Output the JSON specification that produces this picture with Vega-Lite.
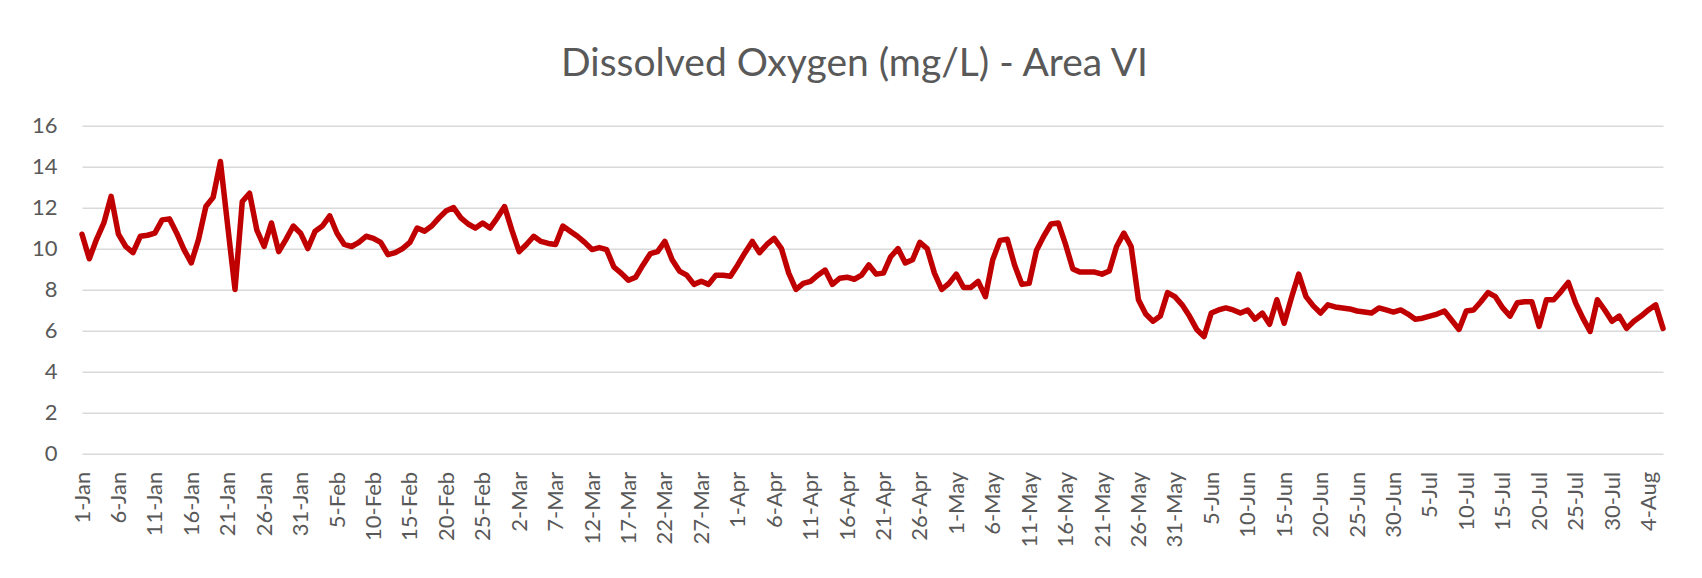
{
  "$schema": "https://vega.github.io/schema/vega-lite/v6.json",
  "width": 1581,
  "height": 327.6,
  "autosize": {"type": "none"},
  "padding": {"left": 82, "top": 125.7, "right": 39, "bottom": 124.7},
  "background": "white",
  "title": {"text": "Dissolved Oxygen (mg/L) - Area VI", "font": "Lato", "fontSize": 39, "fontWeight": "normal", "color": "#595959", "anchor": "middle", "offset": 31, "dx": -18},
  "data": {"values": [
    {"d":"1-Jan","v":10.7},{"d":"2-Jan","v":9.5},{"d":"3-Jan","v":10.45},{"d":"4-Jan","v":11.25},{"d":"5-Jan","v":12.55},{"d":"6-Jan","v":10.7},{"d":"7-Jan","v":10.1},{"d":"8-Jan","v":9.8},{"d":"9-Jan","v":10.6},{"d":"10-Jan","v":10.65},
    {"d":"11-Jan","v":10.75},{"d":"12-Jan","v":11.4},{"d":"13-Jan","v":11.45},{"d":"14-Jan","v":10.75},{"d":"15-Jan","v":9.95},{"d":"16-Jan","v":9.3},{"d":"17-Jan","v":10.45},{"d":"18-Jan","v":12.05},{"d":"19-Jan","v":12.5},{"d":"20-Jan","v":14.25},
    {"d":"21-Jan","v":11.1},{"d":"22-Jan","v":8.0},{"d":"23-Jan","v":12.3},{"d":"24-Jan","v":12.7},{"d":"25-Jan","v":10.9},{"d":"26-Jan","v":10.1},{"d":"27-Jan","v":11.25},{"d":"28-Jan","v":9.85},{"d":"29-Jan","v":10.45},{"d":"30-Jan","v":11.1},
    {"d":"31-Jan","v":10.75},
    {"d":"1-Feb","v":10.0},{"d":"2-Feb","v":10.85},{"d":"3-Feb","v":11.1},{"d":"4-Feb","v":11.6},{"d":"5-Feb","v":10.75},{"d":"6-Feb","v":10.2},{"d":"7-Feb","v":10.1},{"d":"8-Feb","v":10.3},{"d":"9-Feb","v":10.6},{"d":"10-Feb","v":10.5},
    {"d":"11-Feb","v":10.3},{"d":"12-Feb","v":9.7},{"d":"13-Feb","v":9.8},{"d":"14-Feb","v":10.0},{"d":"15-Feb","v":10.3},{"d":"16-Feb","v":11.0},{"d":"17-Feb","v":10.85},{"d":"18-Feb","v":11.1},{"d":"19-Feb","v":11.5},{"d":"20-Feb","v":11.85},
    {"d":"21-Feb","v":12.0},{"d":"22-Feb","v":11.5},{"d":"23-Feb","v":11.2},{"d":"24-Feb","v":11.0},{"d":"25-Feb","v":11.25},{"d":"26-Feb","v":11.0},{"d":"27-Feb","v":11.5},{"d":"28-Feb","v":12.05},
    {"d":"1-Mar","v":10.9},{"d":"2-Mar","v":9.85},{"d":"3-Mar","v":10.2},{"d":"4-Mar","v":10.6},{"d":"5-Mar","v":10.35},{"d":"6-Mar","v":10.25},{"d":"7-Mar","v":10.2},{"d":"8-Mar","v":11.1},{"d":"9-Mar","v":10.85},{"d":"10-Mar","v":10.6},
    {"d":"11-Mar","v":10.3},{"d":"12-Mar","v":9.95},{"d":"13-Mar","v":10.05},{"d":"14-Mar","v":9.95},{"d":"15-Mar","v":9.1},{"d":"16-Mar","v":8.8},{"d":"17-Mar","v":8.45},{"d":"18-Mar","v":8.6},{"d":"19-Mar","v":9.2},{"d":"20-Mar","v":9.75},
    {"d":"21-Mar","v":9.85},{"d":"22-Mar","v":10.35},{"d":"23-Mar","v":9.45},{"d":"24-Mar","v":8.9},{"d":"25-Mar","v":8.7},{"d":"26-Mar","v":8.25},{"d":"27-Mar","v":8.4},{"d":"28-Mar","v":8.25},{"d":"29-Mar","v":8.7},{"d":"30-Mar","v":8.7},
    {"d":"31-Mar","v":8.65},
    {"d":"1-Apr","v":9.2},{"d":"2-Apr","v":9.8},{"d":"3-Apr","v":10.35},{"d":"4-Apr","v":9.8},{"d":"5-Apr","v":10.2},{"d":"6-Apr","v":10.5},{"d":"7-Apr","v":10.0},{"d":"8-Apr","v":8.8},{"d":"9-Apr","v":8.0},{"d":"10-Apr","v":8.3},
    {"d":"11-Apr","v":8.4},{"d":"12-Apr","v":8.7},{"d":"13-Apr","v":8.95},{"d":"14-Apr","v":8.25},{"d":"15-Apr","v":8.55},{"d":"16-Apr","v":8.6},{"d":"17-Apr","v":8.5},{"d":"18-Apr","v":8.7},{"d":"19-Apr","v":9.2},{"d":"20-Apr","v":8.75},
    {"d":"21-Apr","v":8.8},{"d":"22-Apr","v":9.6},{"d":"23-Apr","v":10.0},{"d":"24-Apr","v":9.3},{"d":"25-Apr","v":9.45},{"d":"26-Apr","v":10.3},{"d":"27-Apr","v":10.0},{"d":"28-Apr","v":8.8},{"d":"29-Apr","v":8.0},{"d":"30-Apr","v":8.3},
    {"d":"1-May","v":8.75},{"d":"2-May","v":8.1},{"d":"3-May","v":8.1},{"d":"4-May","v":8.4},{"d":"5-May","v":7.65},{"d":"6-May","v":9.45},{"d":"7-May","v":10.4},{"d":"8-May","v":10.45},{"d":"9-May","v":9.2},{"d":"10-May","v":8.25},
    {"d":"11-May","v":8.3},{"d":"12-May","v":9.9},{"d":"13-May","v":10.6},{"d":"14-May","v":11.2},{"d":"15-May","v":11.25},{"d":"16-May","v":10.2},{"d":"17-May","v":9.0},{"d":"18-May","v":8.85},{"d":"19-May","v":8.85},{"d":"20-May","v":8.85},
    {"d":"21-May","v":8.75},{"d":"22-May","v":8.9},{"d":"23-May","v":10.1},{"d":"24-May","v":10.75},{"d":"25-May","v":10.1},{"d":"26-May","v":7.5},{"d":"27-May","v":6.8},{"d":"28-May","v":6.45},{"d":"29-May","v":6.7},{"d":"30-May","v":7.85},
    {"d":"31-May","v":7.65},
    {"d":"1-Jun","v":7.25},{"d":"2-Jun","v":6.7},{"d":"3-Jun","v":6.05},{"d":"4-Jun","v":5.7},{"d":"5-Jun","v":6.85},{"d":"6-Jun","v":7.0},{"d":"7-Jun","v":7.1},{"d":"8-Jun","v":7.0},{"d":"9-Jun","v":6.85},{"d":"10-Jun","v":7.0},
    {"d":"11-Jun","v":6.55},{"d":"12-Jun","v":6.85},{"d":"13-Jun","v":6.3},{"d":"14-Jun","v":7.5},{"d":"15-Jun","v":6.35},{"d":"16-Jun","v":7.6},{"d":"17-Jun","v":8.75},{"d":"18-Jun","v":7.65},{"d":"19-Jun","v":7.2},{"d":"20-Jun","v":6.85},
    {"d":"21-Jun","v":7.25},{"d":"22-Jun","v":7.15},{"d":"23-Jun","v":7.1},{"d":"24-Jun","v":7.05},{"d":"25-Jun","v":6.95},{"d":"26-Jun","v":6.9},{"d":"27-Jun","v":6.85},{"d":"28-Jun","v":7.1},{"d":"29-Jun","v":7.0},{"d":"30-Jun","v":6.9},
    {"d":"1-Jul","v":7.0},{"d":"2-Jul","v":6.8},{"d":"3-Jul","v":6.55},{"d":"4-Jul","v":6.6},{"d":"5-Jul","v":6.7},{"d":"6-Jul","v":6.8},{"d":"7-Jul","v":6.95},{"d":"8-Jul","v":6.5},{"d":"9-Jul","v":6.05},{"d":"10-Jul","v":6.95},
    {"d":"11-Jul","v":7.0},{"d":"12-Jul","v":7.4},{"d":"13-Jul","v":7.85},{"d":"14-Jul","v":7.65},{"d":"15-Jul","v":7.1},{"d":"16-Jul","v":6.7},{"d":"17-Jul","v":7.35},{"d":"18-Jul","v":7.4},{"d":"19-Jul","v":7.4},{"d":"20-Jul","v":6.2},
    {"d":"21-Jul","v":7.5},{"d":"22-Jul","v":7.5},{"d":"23-Jul","v":7.9},{"d":"24-Jul","v":8.35},{"d":"25-Jul","v":7.35},{"d":"26-Jul","v":6.6},{"d":"27-Jul","v":5.95},{"d":"28-Jul","v":7.5},{"d":"29-Jul","v":7.0},{"d":"30-Jul","v":6.45},
    {"d":"31-Jul","v":6.7},
    {"d":"1-Aug","v":6.1},{"d":"2-Aug","v":6.45},{"d":"3-Aug","v":6.7},{"d":"4-Aug","v":7.0},{"d":"5-Aug","v":7.25},{"d":"6-Aug","v":6.1}
  ]},
  "mark": {"type": "line", "color": "#C00000", "strokeWidth": 5.5, "strokeJoin": "round", "strokeCap": "round"},
  "encoding": {
    "x": {
      "field": "d", "type": "ordinal", "sort": null,
      "scale": {"type": "point", "padding": 0},
      "axis": {
        "values": ["1-Jan","6-Jan","11-Jan","16-Jan","21-Jan","26-Jan","31-Jan","5-Feb","10-Feb","15-Feb","20-Feb","25-Feb","2-Mar","7-Mar","12-Mar","17-Mar","22-Mar","27-Mar","1-Apr","6-Apr","11-Apr","16-Apr","21-Apr","26-Apr","1-May","6-May","11-May","16-May","21-May","26-May","31-May","5-Jun","10-Jun","15-Jun","20-Jun","25-Jun","30-Jun","5-Jul","10-Jul","15-Jul","20-Jul","25-Jul","30-Jul","4-Aug"],
        "labelAngle": -90, "labelAlign": "right", "labelBaseline": "middle",
        "labelFont": "Lato", "labelFontSize": 22, "labelColor": "#595959",
        "ticks": false, "domain": false, "grid": false, "labelPadding": 18, "title": null, "labelOverlap": false
      }
    },
    "y": {
      "field": "v", "type": "quantitative",
      "scale": {"domain": [0, 16], "nice": false},
      "axis": {
        "values": [0, 2, 4, 6, 8, 10, 12, 14, 16],
        "grid": true, "gridColor": "#d9d9d9", "gridWidth": 1.5,
        "domain": false, "ticks": false,
        "labelFont": "Lato", "labelFontSize": 22, "labelColor": "#595959",
        "labelPadding": 25, "title": null
      }
    }
  },
  "config": {"view": {"stroke": null}}
}
